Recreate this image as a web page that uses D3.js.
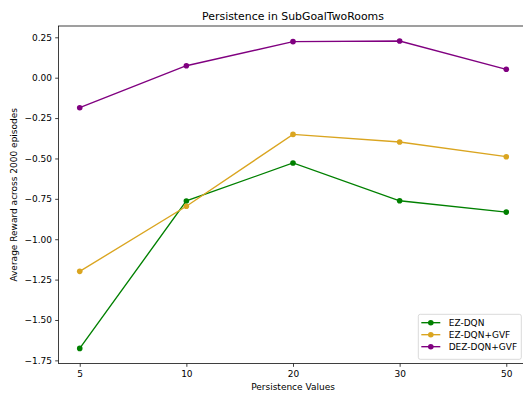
<!DOCTYPE html>
<html>
<head>
<meta charset="utf-8">
<script src="https://cdn.jsdelivr.net/npm/d3@7"></script>
<style>
  body { margin: 0; background: #fff; }
  svg { display: block; font-family: "DejaVu Sans", sans-serif; }
</style>
</head>
<body>
<div id="chart"></div>
<script>
// data
const persistence = ["5", "10", "20", "30", "50"];
const ezDqn = [-1.676, -0.763, -0.528, -0.762, -0.832];
const ezDqnGvf = [-1.199, -0.796, -0.351, -0.398, -0.489];
const dezDqnGvf = [-0.186, 0.074, 0.223, 0.227, 0.052];
const yTicks = [0.25, 0, -0.25, -0.5, -0.75, -1, -1.25, -1.5, -1.75];

const series = [
  {name: "EZ-DQN", values: ezDqn, color: "green"},
  {name: "EZ-DQN+GVF", values: ezDqnGvf, color: "goldenrod"},
  {name: "DEZ-DQN+GVF", values: dezDqnGvf, color: "purple"}
];

const width = 523, height = 395;
const plotL = 58.4, plotR = 527.6, plotT = 26, plotB = 363.6;

const svg = d3.select("#chart").append("svg")
    .attr("width", width)
    .attr("height", height);

const x = d3.scalePoint()
    .domain(persistence)
    .range([plotL, plotR])
    .padding(0.2);

const y = d3.scaleLinear()
    .domain([-1.77, 0.32])
    .range([plotB, plotT]);

const fmt = d => d3.format(".2f")(d).replace("-", "\u2212");

// axes
const xAxis = svg.append("g")
    .attr("transform", `translate(0,${plotB})`)
    .call(d3.axisBottom(x).tickSize(3.2).tickPadding(3.5));
const yAxis = svg.append("g")
    .attr("transform", `translate(${plotL},0)`)
    .call(d3.axisLeft(y).tickValues(yTicks).tickFormat(fmt).tickSize(3.2).tickPadding(3.2));

[xAxis, yAxis].forEach(g => {
  g.select(".domain").remove();
  g.selectAll(".tick line").attr("stroke", "#000").attr("stroke-width", 0.75);
  g.selectAll(".tick text")
    .attr("fill", "#000")
    .style("font-family", "DejaVu Sans")
    .style("font-size", "9px");
});

// frame
svg.append("rect")
    .attr("x", plotL)
    .attr("y", plotT)
    .attr("width", plotR - plotL)
    .attr("height", plotB - plotT)
    .attr("fill", "none")
    .attr("stroke", "#000")
    .attr("stroke-width", 0.75);

const line = d3.line()
    .x((d, i) => x(persistence[i]))
    .y(d => y(d));

series.forEach(s => {
  svg.append("path")
      .datum(s.values)
      .attr("d", line)
      .attr("fill", "none")
      .attr("stroke", s.color)
      .attr("stroke-width", 1.36);
  svg.append("g")
    .selectAll("circle")
    .data(s.values)
    .join("circle")
      .attr("cx", (d, i) => x(persistence[i]))
      .attr("cy", d => y(d))
      .attr("r", 2.8)
      .attr("fill", s.color);
});

// title and labels
svg.append("text")
    .attr("x", (plotL + plotR) / 2)
    .attr("y", 20)
    .attr("text-anchor", "middle")
    .style("font-size", "10.9px")
    .text("Persistence in SubGoalTwoRooms");

svg.append("text")
    .attr("x", (plotL + plotR) / 2)
    .attr("y", 390)
    .attr("text-anchor", "middle")
    .style("font-size", "9px")
    .text("Persistence Values");

svg.append("text")
    .attr("transform", `translate(17,${(plotT + plotB) / 2}) rotate(-90)`)
    .attr("text-anchor", "middle")
    .style("font-size", "9px")
    .text("Average Reward across 2000 episodes");

// legend
const legend = svg.append("g").attr("transform", "translate(418.3,314.3)");
legend.append("rect")
    .attr("width", 103)
    .attr("height", 45)
    .attr("rx", 2)
    .attr("fill", "#fff")
    .attr("fill-opacity", 0.8)
    .attr("stroke", "#ccc")
    .attr("stroke-width", 0.75);

series.forEach((s, i) => {
  const row = legend.append("g").attr("transform", `translate(0,${8.4 + i * 12})`);
  row.append("line")
      .attr("x1", 3).attr("x2", 22)
      .attr("stroke", s.color)
      .attr("stroke-width", 1.36);
  row.append("circle")
      .attr("cx", 12.5)
      .attr("r", 2.8)
      .attr("fill", s.color);
  row.append("text")
      .attr("x", 30.4)
      .attr("dy", "0.35em")
      .style("font-size", "9px")
      .text(s.name);
});
</script>
</body>
</html>
